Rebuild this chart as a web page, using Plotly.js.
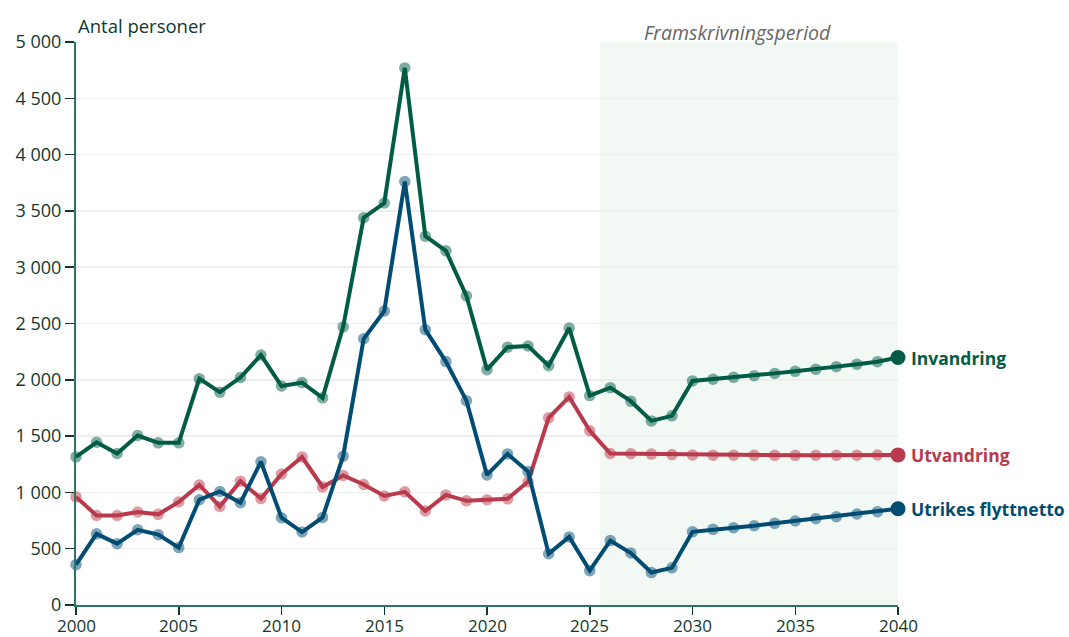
<!DOCTYPE html>
<html>
<head>
<meta charset="utf-8">
<script src="https://cdn.plot.ly/plotly-3.0.1.min.js"></script>
<style>html,body{margin:0;padding:0;background:#fff;}#chart{width:1069px;height:637px;}</style>
</head>
<body>
<div id="chart"></div>
<script>
const years = [2000,2001,2002,2003,2004,2005,2006,2007,2008,2009,2010,2011,2012,2013,2014,2015,2016,2017,2018,2019,2020,2021,2022,2023,2024,2025,2026,2027,2028,2029,2030,2031,2032,2033,2034,2035,2036,2037,2038,2039,2040];
const invandring = [1315,1445,1345,1505,1440,1440,2010,1890,2020,2220,1945,1975,1840,2470,3440,3570,4770,3275,3145,2745,2090,2290,2300,2125,2460,1860,1930,1810,1635,1680,1990,2005,2022,2036,2057,2075,2093,2117,2138,2161,2198];
const utvandring = [960,795,795,826,805,915,1066,875,1100,945,1163,1314,1048,1150,1070,968,1005,835,978,925,935,943,1095,1662,1848,1548,1345,1343,1340,1336,1333,1331,1330,1330,1329,1329,1330,1330,1331,1332,1333];
const netto = [358,632,545,668,625,510,935,1008,908,1272,775,648,778,1322,2365,2610,3760,2445,2162,1815,1155,1342,1185,455,605,305,572,462,288,330,650,672,686,704,725,746,767,784,808,829,855];
const seriesNames = ['Invandring','Utvandring','Utrikes flyttnetto'];
const seriesColors = ['#005c45','#b93a4c','#004c72'];
const seriesData = [invandring, utvandring, netto];
const xTicks = [2000,2005,2010,2015,2020,2025,2030,2035,2040];
const yTicks = [0,500,1000,1500,2000,2500,3000,3500,4000,4500,5000];
const projStart = 2025.5, projEnd = 2040;

const traces = [];
seriesData.forEach((d,i)=>{
  traces.push({x:years,y:d,type:'scatter',mode:'lines+markers',name:seriesNames[i],
    line:{color:seriesColors[i],width:4},
    marker:{color:seriesColors[i],size:11.5,opacity:0.5},
    cliponaxis:false,hoverinfo:'x+y'});
});
seriesData.forEach((d,i)=>{
  traces.push({x:[years[years.length-1]],y:[d[d.length-1]],type:'scatter',mode:'markers',
    marker:{color:seriesColors[i],size:15},cliponaxis:false,showlegend:false,hoverinfo:'skip'});
});

const annotations = seriesData.map((d,i)=>({
  x:years[years.length-1], y:d[d.length-1], xref:'x', yref:'y',
  text:'<b>'+seriesNames[i]+'</b>', showarrow:false, xanchor:'left', yanchor:'middle',
  xshift:11, font:{family:'Open Sans, sans-serif',size:17.5,color:seriesColors[i]}
}));
annotations.push({xref:'paper',yref:'paper',x:0,y:1,xanchor:'left',yanchor:'bottom',yshift:2,
  text:'Antal personer',showarrow:false,font:{family:'Open Sans, sans-serif',size:18.5,color:'#12382c'}});
annotations.push({xref:'x',yref:'paper',x:2032.2,y:1,xanchor:'center',yanchor:'bottom',yshift:-6,
  text:'<i>Framskrivningsperiod</i>',showarrow:false,font:{family:'Open Sans, sans-serif',size:19.5,color:'#666'}});
xTicks.forEach(t=>{
  annotations.push({xref:'x',yref:'paper',x:t,y:0,xanchor:'center',yanchor:'top',yshift:-7,
    text:String(t),showarrow:false,font:{family:'Open Sans, sans-serif',size:17,color:'#12382c'}});
});

const layout = {
  width:1069,height:637,
  margin:{l:76,r:171,t:42,b:32},
  paper_bgcolor:'#fff',plot_bgcolor:'#fff',
  showlegend:false,
  separators:', ',
  font:{family:'Open Sans, sans-serif',size:18,color:'#12382c'},
  xaxis:{range:[2000,2040],tickvals:xTicks,ticks:'outside',ticklen:8,tickwidth:1.5,tickcolor:'#12382c',
    showticklabels:false,
    showgrid:false,zeroline:false,showline:true,linecolor:'#2b7565',linewidth:2},
  yaxis:{range:[0,5000],tickvals:yTicks,tickformat:',d',ticks:'outside',ticklen:9,tickwidth:1.5,tickcolor:'#12382c',
    showgrid:true,gridcolor:'#eeeeee',gridwidth:1.5,zeroline:false,showline:true,linecolor:'#2b7565',linewidth:2,
    tickfont:{size:18,color:'#12382c'}},
  shapes:[{type:'rect',xref:'x',yref:'y',x0:projStart,x1:projEnd,y0:0,y1:5000,
    fillcolor:'#f2f8f4',line:{width:0},layer:'below'}],
  annotations:annotations
};
Plotly.newPlot('chart',traces,layout,{displayModeBar:false,staticPlot:true});
</script>
</body>
</html>
